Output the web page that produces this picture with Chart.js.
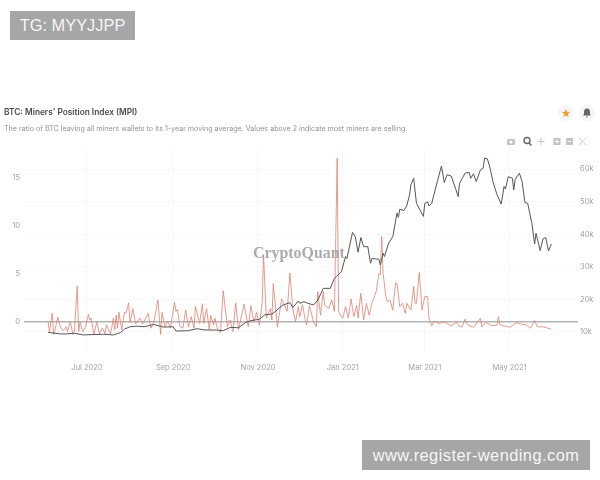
<!DOCTYPE html>
<html>
<head>
<meta charset="utf-8">
<script src="https://cdn.jsdelivr.net/npm/chart.js@4/dist/chart.umd.min.js"></script>
<style>
  html, body { margin: 0; padding: 0; background: #fff; }
  body { width: 600px; height: 480px; position: relative; overflow: hidden; font-family: Inter, sans-serif; }
  #chart { position: absolute; left: 0; top: 0; }
  .tag { position: absolute; background: #a6a6a6; color: rgba(255,255,255,.92); font-family: "Liberation Sans", sans-serif; font-size: 16.4px; display: flex; align-items: center; justify-content: center; }
  #tagTop { left: 10px; top: 11px; width: 125px; height: 29px; }
  #tagBottom { left: 362px; top: 440px; width: 228px; height: 30px; letter-spacing: .45px; }
  #title { position: absolute; left: 4px; top: 107px; font-size: 8.3px; font-weight: 600; color: #4a4a4a; white-space: nowrap; }
  #subtitle { position: absolute; left: 4px; top: 124px; font-size: 7.13px; color: #939393; white-space: nowrap; }
  #mark { position: absolute; left: 253px; top: 244px; font-family: "Liberation Serif", serif; font-weight: bold; font-size: 15.9px; color: rgba(150,150,150,.8); white-space: nowrap; }
  svg.icons { position: absolute; left: 0; top: 0; }
</style>
</head>
<body>
<canvas id="chart" width="600" height="480"></canvas>
<div id="mark">CryptoQuant</div>
<div class="tag" id="tagTop">TG: MYYJJPP</div>
<div class="tag" id="tagBottom">www.register-wending.com</div>
<div id="title">BTC: Miners' Position Index (MPI)</div>
<div id="subtitle">The ratio of BTC leaving all miners wallets to its 1-year moving average. Values above 2 indicate most miners are selling.</div>
<svg class="icons" width="600" height="480">
  <circle cx="566" cy="113" r="8" fill="#f6f6f6"/>
  <circle cx="587" cy="113" r="8" fill="#f6f6f6"/>
  <path d="M566 109l1.2 2.8 3 .3-2.3 2 .7 3-2.6-1.6-2.6 1.6.7-3-2.3-2 3-.3z" fill="#e8a33d"/>
  <path d="M587 108.500c-2 0-3 1.500-3 3.500v2l-1 1.500h8l-1-1.500v-2c0-2-1-3.500-3-3.500zM586 116.500h2a1 1 0 0 1-2 0z" fill="#666"/>
  <rect x="507" y="139" width="8" height="6" rx="1" fill="#c4c4c4"/><circle cx="511" cy="142" r="1.600" fill="#fff"/>
  <circle cx="527" cy="140.500" r="3" fill="none" stroke="#666" stroke-width="1.400"/><path d="M529 143l2.500 2.500" stroke="#666" stroke-width="1.600"/>
  <path d="M541 138v7M537.500 141.500h7" stroke="#c4c4c4" stroke-width="1"/>
  <rect x="553.500" y="138" width="7" height="7" fill="#c4c4c4"/><path d="M557 139.500v4M555 141.500h4" stroke="#fff"/>
  <rect x="566" y="138" width="7" height="7" fill="#c4c4c4"/><path d="M567.500 141.500h4" stroke="#fff"/>
  <path d="M579 138l7 7M586 138l-7 7" stroke="#d0d0d0" stroke-width="1"/>
</svg>
<script>
// day numbers count from 1 Jun 2020
const mpiDays = [2,3,5,6,7,9,11,13,15,16,18,20,21,23,24,25,27,29,31,32,33,35,37,39,41,43,44,47,49,50,51,52,53,55,57,58,60,61,63,65,68,70,74,76,78,81,83,84,86,88,90,93,94,95,97,99,101,103,105,107,108,111,113,114,116,118,119,121,122,124,126,128,131,133,135,137,139,143,146,148,150,152,154,156,157,159,162,163,164,167,170,172,174,176,178,180,182,183,185,187,188,190,193,195,196,198,200,201,204,206,208,210,211,213,214,216,218,220,222,224,225,227,229,231,233,235,238,240,241,242,243,245,246,248,250,252,253,255,257,259,260,263,265,266,267,269,271,273,275,276,278,280,283,287,292,296,298,300,302,304,308,313,314,317,321,325,326,327,334,339,343,346,349,352,354,358,364];
const mpiValues = [0,-1,0.9,-1.3,-0.8,0.5,-0.55,-0.9,-0.5,-1,0,-1.3,-1,3.75,-1,0,-1,-0.5,0.8,0.2,0.4,-1.3,0,-1.2,-0.65,-1.2,-0.3,-1.25,0.4,-0.8,0.7,-0.65,1,-0.8,1.05,0.9,2,-0.07,1.4,-0.2,0.4,-0.2,0.9,-0.65,-0.1,2.3,-1.3,1,-0.5,0.1,-0.6,2.05,1.1,1.3,-0.5,-0.65,1.25,-0.5,0.55,-0.65,1.6,-0.15,1.9,-0.15,1.4,-0.8,0.7,-0.3,0.4,-0.8,-1.1,3.25,-0.5,0.2,-1,1.95,-0.8,1.85,-0.5,1.7,0,1,-0.35,1.95,7,0.4,1.4,0.2,4,-0.5,2.4,1.8,1.1,5.1,1.4,0,1.6,0.55,1.8,0.2,-0.3,1.7,0,-0.5,3.15,0.7,3.15,1.75,1.4,2.3,1.1,17.05,1.1,0.55,0.4,1.6,0.4,2.4,0.55,1.75,0.4,3,0.2,1.95,0.7,1.95,3.15,5.05,4.9,8.9,5.05,2.65,2.1,2.3,1.2,4.05,4,1.6,1.95,0.9,1.95,1.25,3.7,1.95,1.95,5.15,1.25,2.65,2.65,0.4,-0.4,0.1,-0.15,0,-0.4,0,-0.5,-0.5,0.3,-0.3,-0.55,0.4,-0.5,-0.05,-0.4,-0.3,0.55,-0.3,-0.55,-0.07,-0.25,-0.3,-0.65,0.15,-0.5,-0.5,-0.75];
const priceDays = [2,7,11,15,21,27,35,42,49,54,57,61,66,71,78,85,92,94,103,109,115,123,128,133,139,144,148,154,158,163,166,171,176,178,182,183,186,189,193,196,200,205,208,213,216,217,221,223,225,227,229,232,234,235,240,241,243,244,247,250,253,254,255,258,260,262,263,265,267,272,273,275,276,278,282,285,287,289,292,295,297,298,302,305,306,308,310,313,315,316,318,320,322,325,328,330,331,333,336,337,338,341,343,345,347,350,352,353,356,358,360,362,364];
const priceValues = [9.9,9.6,9.4,9.4,9.6,9.1,9.2,9.3,9.1,9.8,10.9,11.6,11.8,11.6,12.3,11.5,11.6,10.3,10.4,11,10.6,10.6,10.4,11.4,11.3,12.9,13.5,13.9,15.3,15.5,16.5,18.3,19,17.5,19.5,18.8,19.3,18.8,18.3,19.8,23.4,23.4,26.5,28.5,33.2,32.6,40.6,39.3,34.5,39,36.2,36.2,31.1,32.6,32.3,30.6,34.2,33.2,37.3,39.3,46.5,45.2,47.7,47.3,48.7,52.1,55.2,57.2,49.5,45.5,49.5,50,48.7,49.5,56.2,61,55.9,58.3,57.9,54.2,51.6,55.7,58.8,59,57.2,58.6,56.2,59.8,60.3,63.4,63.2,60.3,56.2,52.1,49.3,54.7,53.9,57.7,57.2,53.6,56.9,58.8,56.2,49.8,49.5,43.4,37,40.3,35,38.6,39,34.9,37];
const xTickDays = [30,92,153,214,273,334];
const xTickLabels = ['Jul 2020','Sep 2020','Nov 2020','Jan 2021','Mar 2021','May 2021'];
const mpiTicks = [0,5,10,15];
const priceTicks = [10,20,30,40,50,60];
const priceTickLabels = ['10k','20k','30k','40k','50k','60k'];

const pairs = (xs, ys) => xs.map((x, i) => ({ x: x, y: ys[i] }));

new Chart(document.getElementById('chart'), {
    type: 'line',
    data: {
        datasets: [
            {
                label: 'Price',
                data: pairs(priceDays, priceValues),
                yAxisID: 'y1',
                borderColor: '#555',
                borderWidth: 1,
                pointRadius: 0,
                tension: 0
            },
            {
                label: 'MPI',
                data: pairs(mpiDays, mpiValues),
                yAxisID: 'y',
                borderColor: 'rgba(222, 130, 115, 0.8)',
                borderWidth: 1,
                pointRadius: 0,
                tension: 0
            }
        ]
    },
    options: {
        responsive: false,
        animation: false,
        layout: { padding: { top: 150, bottom: 100 } },
        plugins: { legend: { display: false }, tooltip: { enabled: false } },
        scales: {
            x: {
                type: 'linear',
                min: -15.3,
                max: 383.2,
                border: { display: false },
                grid: { color: '#f7f7f7', drawTicks: false },
                afterBuildTicks: function (axis) {
                    axis.ticks = xTickDays.map(v => ({ value: v }));
                },
                afterFit: function (axis) { axis.height = 28; },
                ticks: {
                    autoSkip: false,
                    maxRotation: 0,
                    padding: 11,
                    color: '#a3a3a3',
                    font: { size: 7.5, family: 'Inter' },
                    callback: function (value) { return xTickLabels[xTickDays.indexOf(value)]; }
                }
            },
            y: {
                position: 'left',
                min: -3.125,
                max: 17.9,
                border: { display: false },
                grid: {
                    drawTicks: false,
                    lineWidth: 1.4,
                    color: function (ctx) { return ctx.tick.value === 0 ? '#b4b4b4' : 'rgba(0,0,0,0)'; }
                },
                afterBuildTicks: function (axis) {
                    axis.ticks = mpiTicks.map(v => ({ value: v }));
                },
                afterFit: function (axis) { axis.width = 24; },
                ticks: { padding: 4, color: '#a3a3a3', font: { size: 7.5, family: 'Inter' } }
            },
            y1: {
                position: 'right',
                min: 3.85,
                max: 65.9,
                border: { display: false },
                grid: { color: '#f7f7f7', drawTicks: false },
                afterBuildTicks: function (axis) {
                    axis.ticks = priceTicks.map(v => ({ value: v }));
                },
                afterFit: function (axis) { axis.width = 22; },
                ticks: {
                    padding: 2,
                    color: '#a3a3a3',
                    font: { size: 7.5, family: 'Inter' },
                    callback: function (value) { return priceTickLabels[priceTicks.indexOf(value)]; }
                }
            }
        }
    }
});
</script>
</body>
</html>
